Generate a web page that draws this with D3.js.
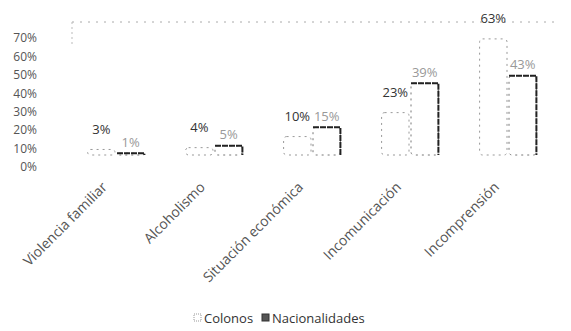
<!DOCTYPE html>
<html>
<head>
<meta charset="utf-8">
<script src="https://cdn.jsdelivr.net/npm/d3@7"></script>
<style>
  body { margin: 0; background: #fff; }
  text { font-family: "Open Sans", "Liberation Sans", sans-serif; }
</style>
</head>
<body>
<div id="chart"></div>
<script>
var categories = ["Violencia familiar", "Alcoholismo", "Situación económica", "Incomunicación", "Incomprensión"];
var series = ["Colonos", "Nacionalidades"];
var colonos = [3, 4, 10, 23, 63];
var nacionalidades = [1, 5, 15, 39, 43];
var yTicks = [0, 10, 20, 30, 40, 50, 60, 70];

var width = 571, height = 331;
var depth = 12; // how far the 3d bars sit back from the axis

var svg = d3.select("#chart").append("svg")
  .attr("width", width)
  .attr("height", height);

var y = d3.scaleLinear().domain([0, 70]).range([167, 38]);
var x0 = d3.scaleBand().domain(categories).range([67, 557]).paddingInner(0.4).paddingOuter(0.2);
var x1 = d3.scaleBand().domain(series).range([0, x0.bandwidth()]);

var rows = categories.map(function(c, i) {
  return { cat: c, values: [
    { s: "Colonos", v: colonos[i] },
    { s: "Nacionalidades", v: nacionalidades[i] }
  ]};
});

// back wall edges, dotted like the scan
svg.append("line")
  .attr("x1", 72).attr("x2", 560)
  .attr("y1", y(70) - depth - 4).attr("y2", y(70) - depth - 4)
  .attr("stroke", "#aaa").attr("stroke-width", 1).attr("stroke-dasharray", "2,6");
svg.append("line")
  .attr("x1", 72).attr("x2", 72)
  .attr("y1", y(70) - depth - 4).attr("y2", y(70) + 6)
  .attr("stroke", "#bbb").attr("stroke-width", 1).attr("stroke-dasharray", "2,3");

// y axis labels only
var yAxis = svg.append("g")
  .attr("transform", "translate(40,0)")
  .call(d3.axisLeft(y).tickValues(yTicks).tickSize(0).tickPadding(3).tickFormat(function(d) { return d + "%"; }));
yAxis.select(".domain").remove();
yAxis.selectAll("text").attr("fill", "#555").style("font-size", "12px");

var groups = svg.selectAll(".grp")
  .data(rows)
  .enter().append("g")
  .attr("class", "grp")
  .attr("transform", function(d) { return "translate(" + x0(d.cat) + ",0)"; });

groups.selectAll("rect")
  .data(function(d) { return d.values; })
  .enter().append("rect")
  .attr("x", function(d) { return x1(d.s) + 1; })
  .attr("y", function(d) { return y(d.v) - depth; })
  .attr("width", x1.bandwidth() - 2)
  .attr("height", function(d) { return y(0) - y(d.v); })
  .attr("rx", 3)
  .attr("fill", "#fff")
  .attr("stroke", function(d) { return d.s == "Colonos" ? "#999" : "#777"; })
  .attr("stroke-width", 1)
  .attr("stroke-dasharray", "2,4");

// dark right edge of the nacionalidades bars
groups.selectAll(".edge")
  .data(function(d) { return d.values.filter(function(v) { return v.s == "Nacionalidades"; }); })
  .enter().append("path")
  .attr("class", "edge")
  .attr("d", function(d) {
    var l = x1(d.s) + 1, r = x1(d.s) + x1.bandwidth() - 1, t = y(d.v) - depth, b = y(0) - depth;
    return "M" + l + "," + t + "L" + r + "," + t + "L" + r + "," + b;
  })
  .attr("fill", "none")
  .attr("stroke", "#222")
  .attr("stroke-width", 2)
  .attr("stroke-dasharray", "6,1");

groups.selectAll(".lbl")
  .data(function(d) { return d.values; })
  .enter().append("text")
  .attr("class", "lbl")
  .attr("x", function(d) { return x1(d.s) + x1.bandwidth() / 2; })
  .attr("y", function(d) { return y(d.v) - depth - (d.s == "Colonos" ? 20 : 11); })
  .attr("dy", "0.35em")
  .attr("text-anchor", "middle")
  .attr("fill", function(d) { return d.s == "Colonos" ? "#333" : "#999"; })
  .style("font-size", "13px")
  .text(function(d) { return d.v + "%"; });

// category labels
svg.selectAll(".cat")
  .data(categories)
  .enter().append("text")
  .attr("class", "cat")
  .attr("transform", function(d) {
    return "translate(" + (x0(d) + x0.bandwidth() / 2 - 8) + ",188) rotate(-45)";
  })
  .attr("text-anchor", "end")
  .attr("fill", "#555")
  .style("font-size", "14px")
  .text(function(d) { return d; });

// legend
var legend = svg.append("g").attr("transform", "translate(194,318)");
var lx = [0, 68];
series.forEach(function(s, i) {
  var g = legend.append("g").attr("transform", "translate(" + lx[i] + ",0)");
  g.append("rect")
    .attr("x", 0).attr("y", -4).attr("width", 7).attr("height", 7)
    .attr("fill", i == 0 ? "#fff" : "#555")
    .attr("stroke", i == 0 ? "#999" : "#333")
    .attr("stroke-dasharray", i == 0 ? "1,1" : null);
  g.append("text")
    .attr("x", 10).attr("y", 0).attr("dy", "0.35em")
    .attr("fill", "#333")
    .style("font-size", "13px")
    .text(s);
});
</script>
</body>
</html>
